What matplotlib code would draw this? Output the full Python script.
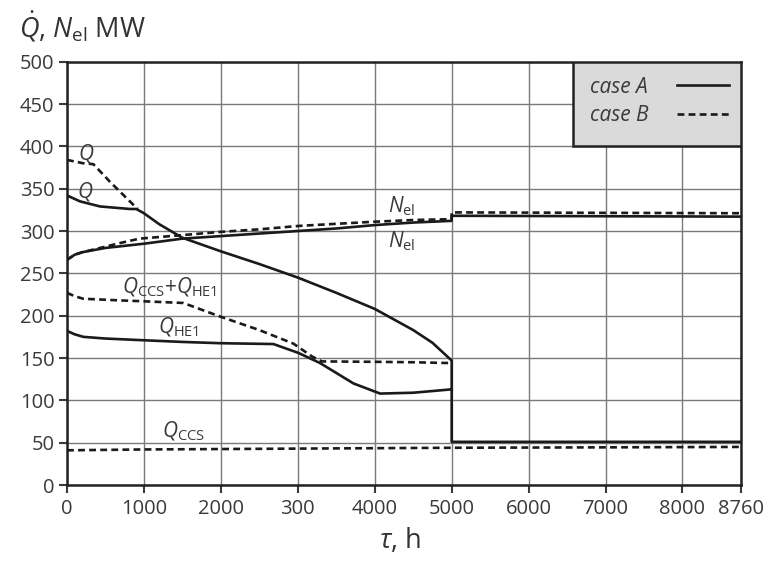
import matplotlib
matplotlib.use("Agg")
import matplotlib.pyplot as plt
from matplotlib.patches import Rectangle

plt.rcParams['font.family'] = ['Open Sans', 'DejaVu Sans']
plt.rcParams['mathtext.fontset'] = 'custom'
plt.rcParams['mathtext.rm'] = 'Open Sans'
plt.rcParams['mathtext.it'] = 'Open Sans:italic'
plt.rcParams['mathtext.bf'] = 'Open Sans:bold'

# ---- datos (tau en h, MW) ----
# caso A (linea continua)
t_Q_A = [0, 170, 430, 820, 900, 1000, 1200, 1500, 2000, 2500, 3000, 3500, 4000, 4500, 4750, 5000, 5000, 8760]
Q_A = [342, 335, 329, 326, 326, 321, 308, 292, 276, 261, 245, 227, 208, 183, 168, 147, 51, 51]

t_N_A = [0, 100, 200, 500, 1000, 1500, 2000, 2500, 3000, 3500, 4000, 4500, 5000, 5000, 8760]
N_A = [266, 272, 275, 280, 285, 291, 294, 297, 300, 303, 307, 310, 312, 318, 317]

t_HE1_A = [0, 100, 212, 500, 992, 1500, 1990, 2683, 3008, 3290, 3723, 4070, 4500, 5000]
HE1_A = [182, 178, 175, 173, 171, 169, 167.5, 166.5, 156, 144, 120, 108, 109, 113]

# caso B (linea discontinua)
t_Q_B = [0, 212, 342, 560, 862, 920]
Q_B = [384, 380, 379, 358, 331, 326]

t_N_B = [0, 100, 200, 430, 700, 943, 1546, 2000, 2500, 3010, 3500, 4000, 4500, 5000, 5000, 8760]
N_B = [266, 272, 275, 280, 286, 291, 295.5, 299, 302, 306, 308.5, 311, 313, 314, 322, 321]

t_CH_B = [0, 100, 212, 700, 1000, 1512, 1990, 2500, 2943, 3182, 3312, 4000, 4500, 5000]
CH_B = [227, 223, 220, 218, 217, 215, 199, 183, 167, 152, 146, 145.5, 145, 144]

t_CCS_B = [0, 1000, 3000, 5000, 7000, 8760]
CCS_B = [41, 42, 43, 44, 44.5, 45]

x_ticks = [0, 1000, 2000, 3000, 4000, 5000, 6000, 7000, 8000, 8760]
x_labels = ['0', '1000', '2000', '300', '4000', '5000', '6000', '7000', '8000', '8760']
y_ticks = list(range(0, 501, 50))

# ---- figura ----
fig = plt.figure(figsize=(7.7, 5.69), dpi=100)
ax = fig.add_axes([0.087, 0.1476, 0.8753, 0.744])

dash = (0, (2.6, 1.6))
lw = 1.9
ax.plot(t_Q_A, Q_A, color='#1a1a1a', lw=lw, zorder=4)
ax.plot(t_N_A, N_A, color='#1a1a1a', lw=lw, zorder=4)
ax.plot(t_HE1_A, HE1_A, color='#1a1a1a', lw=lw, zorder=4)
ax.plot(t_Q_B, Q_B, color='#1a1a1a', lw=lw, ls=dash, zorder=4)
ax.plot(t_N_B, N_B, color='#1a1a1a', lw=lw, ls=dash, zorder=4)
ax.plot(t_CH_B, CH_B, color='#1a1a1a', lw=lw, ls=dash, zorder=4)
ax.plot(t_CCS_B, CCS_B, color='#1a1a1a', lw=lw, ls=dash, zorder=4)

ax.set_xlim(0, 8760)
ax.set_ylim(0, 500)
ax.set_xticks(x_ticks)
ax.set_xticklabels(x_labels)
ax.set_yticks(y_ticks)
ax.grid(True, color='#7a7a7a', lw=1.0)
ax.set_axisbelow(True)
ax.tick_params(labelsize=14.5, colors='#3a3a3a', length=6, width=1.5, direction='out')
ax.tick_params(axis='x', pad=4)
ax.tick_params(axis='y', pad=3)
for s in ax.spines.values():
    s.set_linewidth(1.8)
    s.set_color('#222222')

# leyenda (caja gris arriba a la derecha)
ax.add_patch(Rectangle((0.751, 0.8), 0.249, 0.2, transform=ax.transAxes,
                       facecolor='#dadada', edgecolor='#222222', lw=1.8, zorder=3))
ax.text(0.776, 0.938, 'case A', transform=ax.transAxes, style='italic', fontsize=15,
        color='#3a3a3a', va='center', zorder=5)
ax.text(0.776, 0.872, 'case B', transform=ax.transAxes, style='italic', fontsize=15,
        color='#3a3a3a', va='center', zorder=5)
ax.plot([0.905, 0.982], [0.944, 0.944], transform=ax.transAxes, color='#1a1a1a', lw=lw, zorder=5)
ax.plot([0.905, 0.982], [0.877, 0.877], transform=ax.transAxes, color='#1a1a1a', lw=lw, ls=dash, zorder=5)

# etiquetas de las curvas
lab = dict(fontsize=15, color='#3a3a3a', ha='center', va='center', zorder=5)
ax.text(256, 392, r'$Q$', **lab)
ax.text(234, 347, r'$Q$', **lab)
ax.text(4350, 329, r'$N_{\mathrm{el}}$', **lab)
ax.text(4350, 288, r'$N_{\mathrm{el}}$', **lab)
ax.text(1330, 233, r'$Q_{\mathrm{CCS}}$+$Q_{\mathrm{HE1}}$', **lab)
ax.text(1450, 186, r'$Q_{\mathrm{HE1}}$', **lab)
ax.text(1510, 63, r'$Q_{\mathrm{CCS}}$', **lab)

fig.text(0.025, 0.952, r'$\dot{Q}$, $N_{\mathrm{el}}$ MW', fontsize=19.5, color='#333333',
         ha='left', va='center')
fig.text(0.52, 0.05, r'$\tau$, h', fontsize=19.5, color='#333333', ha='center', va='center')

fig.savefig('out.png', dpi=100)
